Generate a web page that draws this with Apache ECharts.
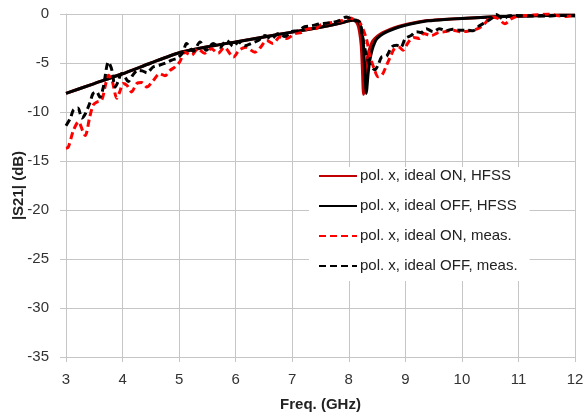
<!DOCTYPE html>
<html>
<head>
<meta charset="utf-8">
<script src="https://cdn.jsdelivr.net/npm/echarts@6/dist/echarts.min.js"></script>
<style>
html,body{margin:0;padding:0;background:#fff;}
#chart{width:585px;height:417px;}
</style>
</head>
<body>
<div id="chart"></div>
<script>
// ---- data ----
const seriesNames = ['pol. x, ideal ON, HFSS', 'pol. x, ideal OFF, HFSS', 'pol. x, ideal ON, meas.', 'pol. x, ideal OFF, meas.'];
const xTicks = [3, 4, 5, 6, 7, 8, 9, 10, 11, 12];
const yTicks = [-35, -30, -25, -20, -15, -10, -5, 0];

const hfssOnFreq = [3.0,3.5,4.0,4.5,5.0,5.5,6.0,6.5,7.0,7.5,7.8,8.0,8.08,8.12,8.16,8.19,8.22,8.24,8.26,8.27,8.29,8.32,8.36,8.41,8.46,8.56,8.66,8.81,8.96,9.16,9.36,9.66,10.0,10.5,11.0,11.5,12.0];
const hfssOnDb   = [-8.1,-7.1,-6.1,-5.0,-3.95,-3.35,-2.85,-2.35,-1.85,-1.35,-1.0,-0.7,-0.6,-0.7,-1.1,-1.8,-3.2,-5.5,-8.2,-7.8,-6.2,-4.8,-3.7,-2.9,-2.5,-2.05,-1.75,-1.4,-1.15,-0.9,-0.7,-0.55,-0.45,-0.3,-0.22,-0.16,-0.12];

const hfssOffFreq = [3.0,3.5,4.0,4.5,5.0,5.5,6.0,6.5,7.0,7.5,7.8,8.0,8.1,8.16,8.2,8.23,8.26,8.28,8.31,8.32,8.34,8.37,8.41,8.46,8.5,8.6,8.7,8.85,9.0,9.2,9.4,9.7,10.0,10.5,11.0,11.5,12.0];
const hfssOffDb   = [-8.1,-7.1,-6.1,-5.0,-3.95,-3.35,-2.85,-2.35,-1.85,-1.35,-1.0,-0.7,-0.6,-0.7,-1.1,-1.8,-3.2,-5.5,-8.1,-7.6,-6.2,-4.8,-3.7,-2.9,-2.5,-2.05,-1.75,-1.4,-1.15,-0.9,-0.7,-0.55,-0.45,-0.3,-0.22,-0.16,-0.12];

const measOnFreq = [3.0,3.04,3.13,3.22,3.3,3.34,3.42,3.48,3.54,3.63,3.69,3.75,3.81,3.9,3.95,4.01,4.08,4.16,4.25,4.34,4.43,4.54,4.66,4.75,4.84,4.93,5.01,5.1,5.22,5.33,5.45,5.57,5.69,5.8,5.96,6.06,6.18,6.34,6.44,6.55,6.66,6.78,6.9,7.05,7.16,7.28,7.42,7.49,7.6,7.75,7.91,8.02,8.13,8.19,8.31,8.37,8.45,8.52,8.59,8.67,8.74,8.81,8.89,8.96,9.05,9.15,9.25,9.32,9.46,9.58,9.7,9.84,9.96,10.1,10.28,10.4,10.52,10.64,10.76,10.87,11.0,11.2,11.55,11.67,11.85,12.0];
const measOnDb   = [-13.7,-13.6,-11.9,-11.0,-12.0,-12.4,-10.5,-9.3,-9.0,-8.8,-7.45,-6.25,-6.7,-8.6,-7.95,-7.1,-7.3,-7.95,-7.1,-7.0,-7.45,-6.8,-6.1,-6.3,-5.75,-5.4,-4.9,-3.9,-4.2,-3.55,-4.0,-3.55,-4.0,-3.4,-4.4,-3.7,-3.4,-3.9,-3.4,-2.7,-3.0,-2.35,-2.5,-2.0,-1.9,-1.5,-1.5,-1.15,-1.0,-0.8,-0.65,-0.4,-0.65,-0.8,-2.5,-4.2,-5.6,-6.4,-6.2,-5.2,-4.3,-3.5,-3.4,-3.7,-2.9,-2.4,-2.5,-2.0,-2.2,-1.9,-1.8,-1.65,-1.8,-1.75,-1.5,-1.0,-0.3,-0.45,-1.0,-0.5,-0.2,-0.15,0.0,-0.15,-0.25,-0.15];

const measOffFreq = [3.0,3.08,3.13,3.21,3.28,3.34,3.42,3.48,3.54,3.6,3.66,3.75,3.81,3.87,3.92,3.98,4.04,4.1,4.18,4.27,4.35,4.43,4.54,4.66,4.76,4.87,4.97,5.07,5.13,5.25,5.37,5.48,5.6,5.72,5.84,5.96,6.05,6.16,6.28,6.4,6.52,6.63,6.75,6.87,6.99,7.1,7.22,7.34,7.49,7.6,7.72,7.84,7.96,8.08,8.19,8.25,8.31,8.37,8.46,8.52,8.58,8.67,8.76,8.85,8.92,9.0,9.1,9.2,9.28,9.37,9.49,9.6,9.72,9.84,9.96,10.08,10.2,10.31,10.43,10.52,10.61,10.73,10.82,10.96,11.2,11.5,11.75,12.0];
const measOffDb   = [-11.4,-10.6,-9.8,-9.6,-10.6,-10.2,-9.1,-8.1,-7.95,-8.5,-7.45,-4.9,-5.7,-7.45,-6.9,-6.1,-6.4,-6.9,-6.25,-5.75,-5.8,-6.0,-5.4,-5.2,-5.0,-4.7,-4.5,-3.9,-3.0,-3.8,-2.85,-3.7,-3.0,-3.4,-2.7,-3.3,-2.85,-3.25,-3.0,-2.7,-2.2,-2.55,-2.0,-2.3,-1.8,-1.7,-1.3,-1.2,-1.0,-0.95,-0.85,-0.65,-0.3,-0.65,-0.8,-2.5,-4.2,-5.1,-5.7,-5.2,-4.4,-4.3,-3.35,-3.2,-3.4,-2.5,-2.2,-1.8,-1.9,-1.5,-1.8,-1.5,-1.7,-1.55,-1.65,-1.65,-1.7,-1.2,-0.8,-0.47,-0.06,-0.5,-0.2,-0.15,-0.2,-0.2,-0.15,-0.2];

// ---- build ----
function pairs(xs, ys) { return xs.map((x, i) => [x, ys[i]]); }
const FONT = 'Liberation Sans';
const chart = echarts.init(document.getElementById('chart'), null, {renderer: 'canvas'});
const gridColor = '#c6c6c6';
chart.setOption({
  animation: false,
  backgroundColor: '#ffffff',
  grid: {left: 66, right: 10, top: 14, bottom: 60, containLabel: false, outerBoundsMode: 'none'},
  xAxis: {
    type: 'value', min: xTicks[0], max: xTicks[xTicks.length - 1], interval: 1,
    name: 'Freq. (GHz)', nameLocation: 'middle', nameGap: 40, nameMoveOverlap: false,
    nameTextStyle: {fontFamily: FONT, fontSize: 15, fontWeight: 'bold', color: '#222'},
    axisLine: {show: true, onZero: false, lineStyle: {color: gridColor, width: 1}},
    axisTick: {show: true, length: 5, lineStyle: {color: gridColor}},
    axisLabel: {fontFamily: FONT, fontSize: 15, color: '#333', margin: 15},
    splitLine: {show: true, lineStyle: {color: gridColor, width: 1}}
  },
  yAxis: {
    type: 'value', min: yTicks[0], max: yTicks[yTicks.length - 1], interval: 5,
    name: '|S21| (dB)', nameLocation: 'middle', nameGap: 40, nameRotate: 90, nameMoveOverlap: false,
    nameTextStyle: {fontFamily: FONT, fontSize: 15, fontWeight: 'bold', color: '#222'},
    axisLine: {show: true, onZero: false, lineStyle: {color: gridColor, width: 1}},
    axisTick: {show: true, length: 6, lineStyle: {color: gridColor}},
    axisLabel: {fontFamily: FONT, fontSize: 15, color: '#333', margin: 17},
    splitLine: {show: true, lineStyle: {color: gridColor, width: 1}}
  },
  legend: {
    show: true, orient: 'vertical', left: 309, top: 167,
    backgroundColor: '#ffffff', padding: [1, 12, 7, 9],
    itemWidth: 38, itemHeight: 16, itemGap: 14,
    itemStyle: {opacity: 0},
    textStyle: {fontFamily: FONT, fontSize: 15, color: '#222', lineHeight: 16, padding: [0, 0, 0, -2]},
    data: seriesNames
  },
  series: [
    {name: seriesNames[0], type: 'line', symbol: 'none', smooth: 0.2, data: pairs(hfssOnFreq, hfssOnDb),
     lineStyle: {color: '#c00000', width: 3}, itemStyle: {color: '#c00000'}, z: 2},
    {name: seriesNames[1], type: 'line', symbol: 'none', smooth: 0.2, data: pairs(hfssOffFreq, hfssOffDb),
     lineStyle: {color: '#000000', width: 3}, itemStyle: {color: '#000000'}, z: 3},
    {name: seriesNames[2], type: 'line', symbol: 'none', smooth: 0.3, data: pairs(measOnFreq, measOnDb),
     lineStyle: {color: '#ff0000', width: 3, type: [7, 4]}, itemStyle: {color: '#ff0000'}, z: 4},
    {name: seriesNames[3], type: 'line', symbol: 'none', smooth: 0.3, data: pairs(measOffFreq, measOffDb),
     lineStyle: {color: '#000000', width: 3, type: [7, 4]}, itemStyle: {color: '#000000'}, z: 5}
  ]
});
</script>
</body>
</html>
